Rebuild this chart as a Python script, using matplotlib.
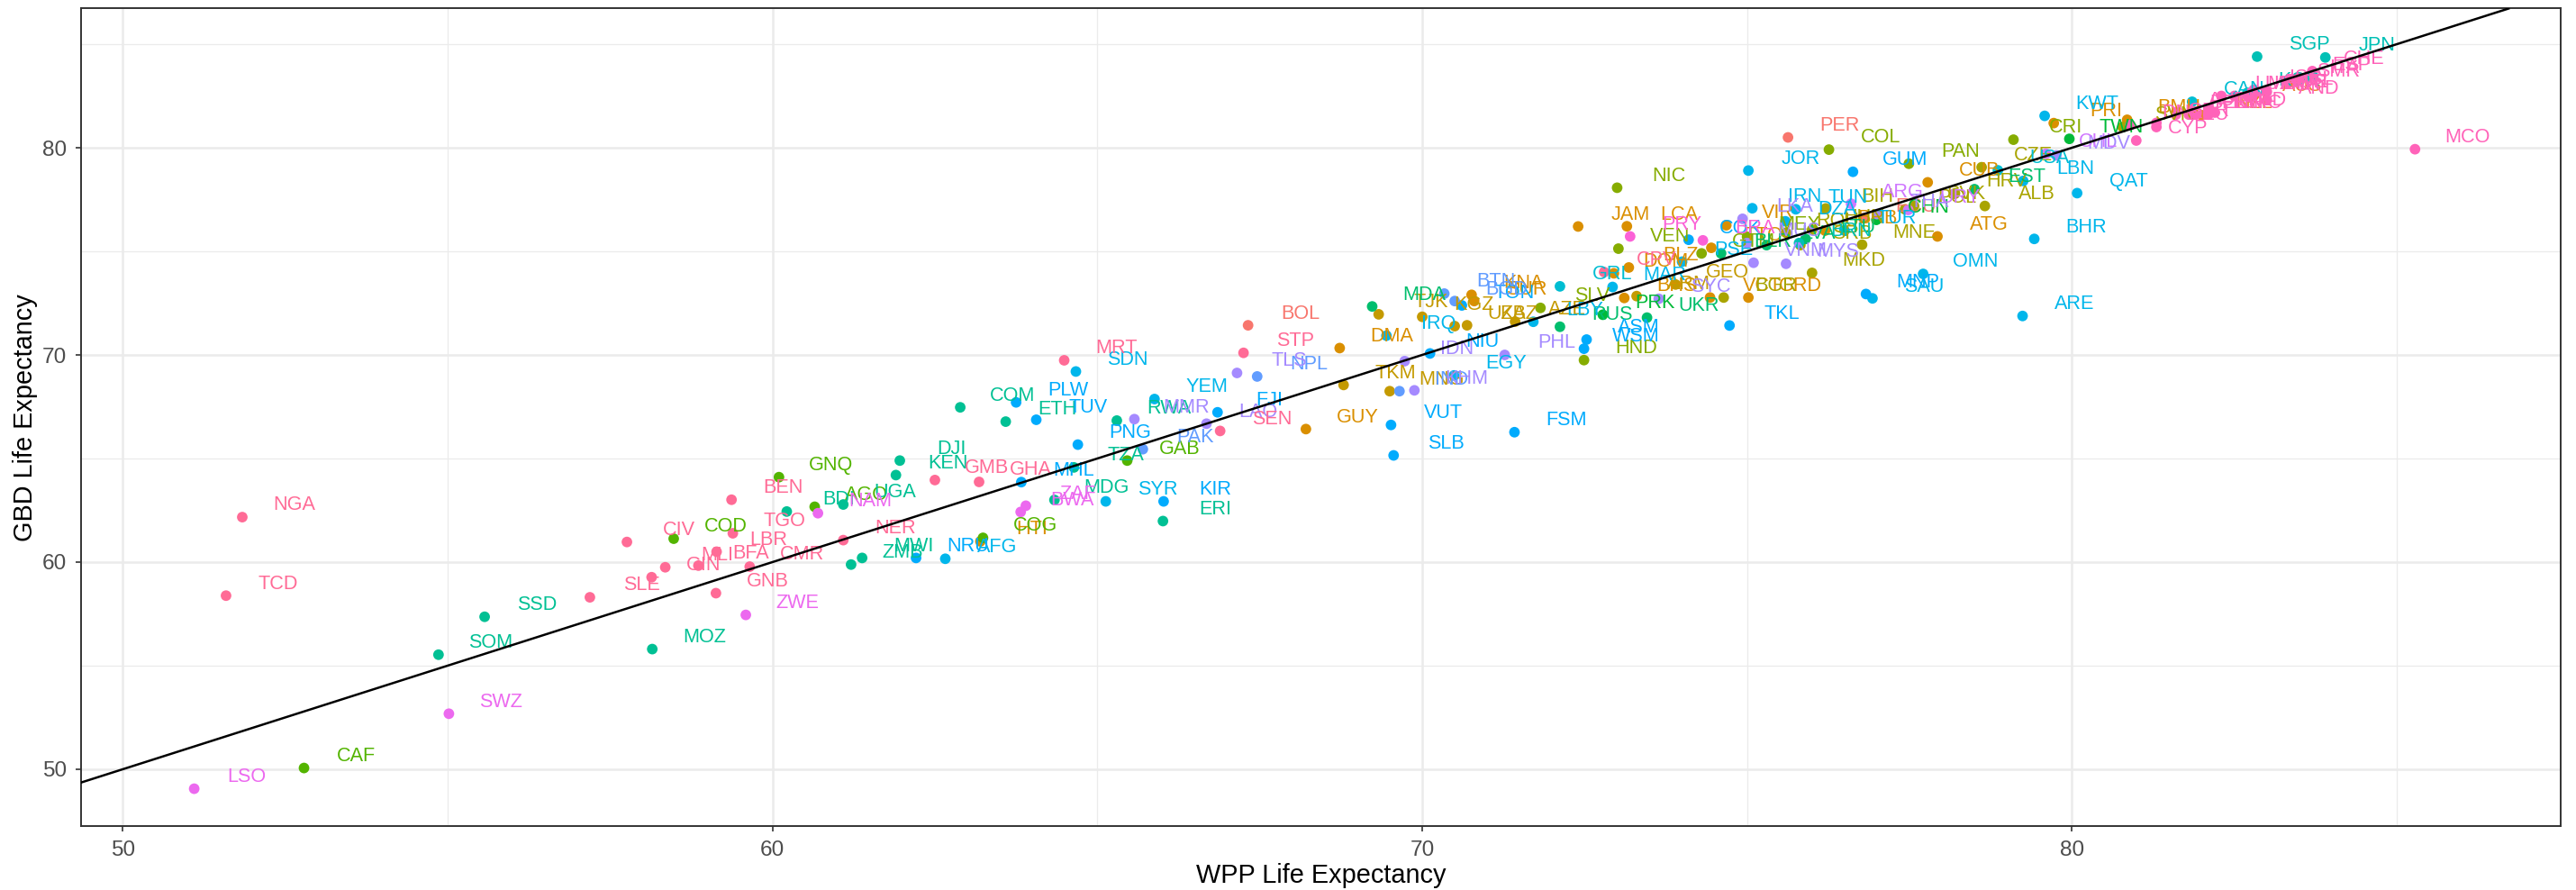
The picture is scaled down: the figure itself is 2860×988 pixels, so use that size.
import matplotlib
matplotlib.use('Agg')
import matplotlib.pyplot as plt
import numpy as np

# GBD regions, alphabetical (same order as the colour scale)
regions = ['Andean Latin America', 'Australasia', 'Caribbean', 'Central Asia',
           'Central Europe', 'Central Latin America', 'Central Sub-Saharan Africa',
           'East Asia', 'Eastern Europe', 'Eastern Sub-Saharan Africa',
           'High-income Asia Pacific', 'High-income North America',
           'North Africa and Middle East', 'Oceania', 'South Asia', 'Southeast Asia',
           'Southern Latin America', 'Southern Sub-Saharan Africa',
           'Tropical Latin America', 'Western Europe', 'Western Sub-Saharan Africa']

iso = ['BOL', 'ECU', 'PER',
       'AUS', 'NZL',
       'HTI', 'GUY', 'DMA', 'KNA', 'SUR', 'JAM', 'LCA', 'BLZ', 'DOM', 'BHS', 'VCT', 'GRD', 'TTO', 'VIR', 'BRB', 'CUB', 'ATG', 'PRI', 'BMU',
       'TKM', 'MNG', 'TJK', 'KGZ', 'UZB', 'KAZ', 'AZE', 'ARM', 'GEO',
       'BGR', 'MKD', 'MNE', 'SRB', 'HUN', 'ROU', 'BIH', 'POL', 'SVK', 'HRV', 'ALB', 'CZE', 'SVN',
       'HND', 'SLV', 'NIC', 'VEN', 'GTM', 'MEX', 'COL', 'PAN', 'CRI',
       'CAF', 'COD', 'GNQ', 'AGO', 'COG', 'GAB',
       'PRK', 'CHN', 'TWN',
       'MDA', 'RUS', 'UKR', 'BLR', 'LVA', 'LTU', 'EST',
       'SOM', 'SSD', 'MOZ', 'BDI', 'UGA', 'ZMB', 'MWI', 'KEN', 'DJI', 'COM', 'ETH', 'MDG', 'TZA', 'RWA', 'ERI',
       'BRN', 'KOR', 'SGP', 'JPN',
       'GRL', 'USA', 'CAN',
       'AFG', 'SYR', 'SDN', 'YEM', 'IRQ', 'EGY', 'LBY', 'MAR', 'PSE', 'JOR', 'IRN', 'DZA', 'TUN', 'TUR', 'SAU', 'OMN', 'ARE', 'LBN', 'BHR', 'KWT', 'QAT',
       'NRU', 'PLW', 'MHL', 'TUV', 'PNG', 'KIR', 'FJI', 'VUT', 'SLB', 'NIU', 'TON', 'FSM', 'WSM', 'ASM', 'TKL', 'COK', 'GUM', 'MNP',
       'PAK', 'NPL', 'IND', 'BTN', 'BGD',
       'MMR', 'LAO', 'TLS', 'IDN', 'KHM', 'PHL', 'SYC', 'VNM', 'MUS', 'MYS', 'LKA', 'THA', 'MDV',
       'ARG', 'URY', 'CHL',
       'LSO', 'SWZ', 'ZWE', 'NAM', 'BWA', 'ZAF',
       'PRY', 'BRA',
       'CYP', 'DNK', 'GBR', 'DEU', 'PRT', 'BEL', 'AUT', 'FIN', 'GRC', 'IRL', 'NLD', 'MLT', 'LUX', 'ISR', 'FRA', 'SWE', 'NOR', 'ISL', 'AND', 'SMR', 'ITA', 'ESP', 'CHE', 'MCO',
       'NGA', 'TCD', 'SLE', 'CIV', 'GIN', 'MLI', 'BFA', 'LBR', 'TGO', 'BEN', 'GNB', 'CMR', 'NER', 'GMB', 'GHA', 'MRT', 'SEN', 'STP', 'CPV']

wpp = [67.32, 76.79, 75.63,
       82.74, 82.00,
       63.20, 68.21, 68.73, 70.76, 70.80, 72.40, 73.15, 73.18, 72.95, 73.11, 74.43, 75.02, 74.45, 74.68, 76.20, 77.78, 77.93, 79.72, 80.85,
       68.79, 69.50, 69.33, 70.00, 70.50, 70.69, 71.43, 73.30, 73.90,
       74.64, 76.00, 76.77, 75.82, 76.00, 75.60, 76.21, 77.43, 77.57, 78.20, 78.66, 78.61, 80.78,
       72.49, 71.82, 73.00, 73.02, 74.30, 75.00, 76.26, 77.49, 79.10,
       52.79, 58.48, 60.10, 60.65, 63.24, 65.46,
       72.78, 76.99, 79.96,
       69.23, 72.12, 73.46, 74.60, 75.30, 75.90, 78.50,
       54.86, 55.57, 58.15, 60.22, 61.09, 61.21, 61.38, 61.90, 61.96, 62.89, 63.59, 64.34, 64.64, 65.30, 66.01,
       75.80, 82.70, 82.85, 83.90,
       72.12, 78.86, 81.85,
       62.66, 65.13, 64.67, 65.88, 69.45, 70.49, 71.71, 72.93, 74.00, 75.02, 75.08, 75.59, 75.75, 76.50, 76.93, 77.71, 79.24, 79.25, 79.42, 79.58, 80.08,
       62.21, 63.75, 63.83, 64.06, 64.70, 66.02, 66.85, 69.52, 69.56, 70.12, 70.61, 71.42, 72.49, 72.53, 74.73, 74.10, 76.63, 76.83,
       65.70, 67.46, 69.65, 70.34, 70.50,
       65.57, 66.68, 67.15, 69.73, 69.88, 71.27, 73.64, 75.10, 75.00, 75.60, 74.93, 77.00, 79.76,
       76.60, 77.48, 79.60,
       51.10, 55.02, 59.59, 60.70, 63.82, 63.90,
       73.20, 74.32,
       80.99, 80.90, 81.30, 81.30, 81.80, 81.60, 81.60, 81.90, 82.10, 82.10, 82.20, 82.50, 82.30, 82.80, 82.70, 82.80, 82.80, 83.00, 83.00, 83.30, 83.40, 83.50, 83.70, 85.28,
       51.84, 51.59, 57.19, 57.76, 58.14, 58.35, 58.86, 59.14, 59.39, 59.37, 59.13, 59.65, 61.09, 62.50, 63.18, 64.49, 66.89, 67.25, 72.80]

gbd = [71.43, 76.60, 80.50,
       82.43, 81.57,
       61.00, 66.42, 70.33, 72.90, 72.60, 76.20, 76.21, 74.22, 73.94, 72.75, 72.77, 72.77, 75.17, 76.26, 76.00, 78.33, 75.72, 81.19, 81.35,
       68.55, 68.25, 71.96, 71.84, 71.39, 71.43, 71.61, 72.84, 73.40,
       72.77, 73.96, 75.32, 75.30, 76.04, 75.90, 77.07, 77.03, 77.19, 77.80, 77.19, 79.06, 81.00,
       69.75, 72.27, 78.07, 75.13, 74.90, 75.70, 79.91, 79.23, 80.39,
       50.06, 61.13, 64.10, 62.67, 61.17, 64.90,
       71.94, 76.52, 80.43,
       72.34, 71.36, 71.80, 74.90, 75.30, 75.60, 78.00,
       55.53, 57.36, 55.80, 62.44, 62.78, 59.88, 60.20, 64.20, 64.90, 67.47, 66.78, 63.00, 64.57, 66.83, 61.98,
       75.40, 82.65, 84.40, 84.36,
       73.31, 78.91, 82.22,
       60.16, 62.93, 69.20, 67.87, 70.93, 69.01, 71.60, 73.28, 74.50, 78.90, 77.08, 76.45, 77.03, 76.00, 72.73, 73.91, 71.88, 78.40, 75.60, 81.54, 77.81,
       60.20, 67.71, 63.86, 66.87, 65.67, 62.93, 67.23, 66.62, 65.15, 70.07, 72.39, 66.27, 70.30, 70.74, 71.42, 75.56, 78.84, 72.94,
       65.45, 68.96, 68.25, 72.96, 72.60,
       66.90, 66.68, 69.13, 69.70, 68.29, 70.00, 72.71, 74.45, 75.40, 74.40, 76.57, 76.80, 79.63,
       77.30, 77.00, 79.71,
       49.06, 52.68, 57.45, 62.36, 62.42, 62.72,
       75.72, 75.53,
       80.35, 81.10, 81.20, 81.00, 81.60, 81.60, 81.70, 81.60, 81.60, 81.90, 81.70, 82.50, 82.50, 82.80, 82.50, 82.60, 82.60, 82.70, 82.30, 83.10, 83.30, 83.40, 83.70, 79.93,
       62.17, 58.38, 58.30, 60.97, 59.27, 59.75, 59.83, 60.50, 61.39, 63.01, 58.50, 59.78, 61.06, 63.96, 63.87, 69.74, 66.33, 70.10, 74.00]

region_idx = ([0] * 3 + [1] * 2 + [2] * 19 + [3] * 9 + [4] * 13 + [5] * 9 + [6] * 6 + [7] * 3
              + [8] * 7 + [9] * 15 + [10] * 4 + [11] * 3 + [12] * 21 + [13] * 18 + [14] * 5
              + [15] * 13 + [16] * 3 + [17] * 6 + [18] * 2 + [19] * 24 + [20] * 19)


def hcl_hex(h, c=100, l=65):
	# R's hcl() -> sRGB (the ggplot hue palette)
	xn, yn, zn = 95.047, 100.0, 108.883
	y = yn * ((l + 16) / 116) ** 3
	un = 4 * xn / (xn + 15 * yn + 3 * zn)
	vn = 9 * yn / (xn + 15 * yn + 3 * zn)
	u = c * np.cos(np.deg2rad(h)) / (13 * l) + un
	v = c * np.sin(np.deg2rad(h)) / (13 * l) + vn
	x = 9 * y * u / (4 * v)
	z = -x / 3 - 5 * y + 3 * y / v
	x, y, z = x / 100, y / 100, z / 100
	rgb = np.array([3.240479 * x - 1.537150 * y - 0.498535 * z,
	                -0.969256 * x + 1.875992 * y + 0.041556 * z,
	                0.055648 * x - 0.204043 * y + 1.057311 * z])
	rgb = np.where(rgb <= 0.0031308, 12.92 * rgb, 1.055 * np.abs(rgb) ** (1 / 2.4) - 0.055)
	return tuple(np.clip(rgb, 0, 1))


n = len(regions)
hues = np.linspace(15, 375, n + 1)[:-1]
palette = [hcl_hex(h) for h in hues]

plt.rcParams['font.family'] = ['Liberation Sans', 'DejaVu Sans']

fig = plt.figure(figsize=(14.3, 4.94), dpi=200)
ax = fig.add_axes([0.0315, 0.0719, 0.9625, 0.9185])

xlim = (49.36, 87.52)
ylim = (47.26, 86.72)
ax.set_xlim(*xlim)
ax.set_ylim(*ylim)

ax.set_facecolor('white')
for v in [50, 60, 70, 80]:
	ax.axvline(v, color='#EBEBEB', lw=0.9, zorder=0)
	ax.axhline(v, color='#EBEBEB', lw=0.9, zorder=0)
for v in [55, 65, 75, 85]:
	ax.axvline(v, color='#EBEBEB', lw=0.45, zorder=0)
	ax.axhline(v, color='#EBEBEB', lw=0.45, zorder=0)

cols = [palette[r] for r in region_idx]
ax.scatter(wpp, gbd, s=18, c=cols, linewidths=0, zorder=2)

for code, xv, yv, col in zip(iso, wpp, gbd, cols):
	ax.text(xv + 0.80, yv + 0.57, code, color=col, fontsize=7.8,
	        ha='center', va='center', zorder=3)

# identity line
ax.plot([xlim[0], ylim[1]], [xlim[0], ylim[1]], color='black', lw=0.9, zorder=4)

ax.set_xticks([50, 60, 70, 80])
ax.set_yticks([50, 60, 70, 80])
ax.tick_params(colors='#333333', labelcolor='#4D4D4D', labelsize=8.8, length=2.2, width=0.6)
for sp in ax.spines.values():
	sp.set_color('#333333')
	sp.set_linewidth(0.7)

ax.set_xlabel('WPP Life Expectancy', fontsize=10.4, va='center')
ax.xaxis.set_label_coords(0.5, -0.061)
ax.set_ylabel('GBD Life Expectancy', fontsize=10.4, va='center')
ax.yaxis.set_label_coords(-0.0225, 0.5)

fig.savefig('out.png', dpi=200, facecolor='white')
